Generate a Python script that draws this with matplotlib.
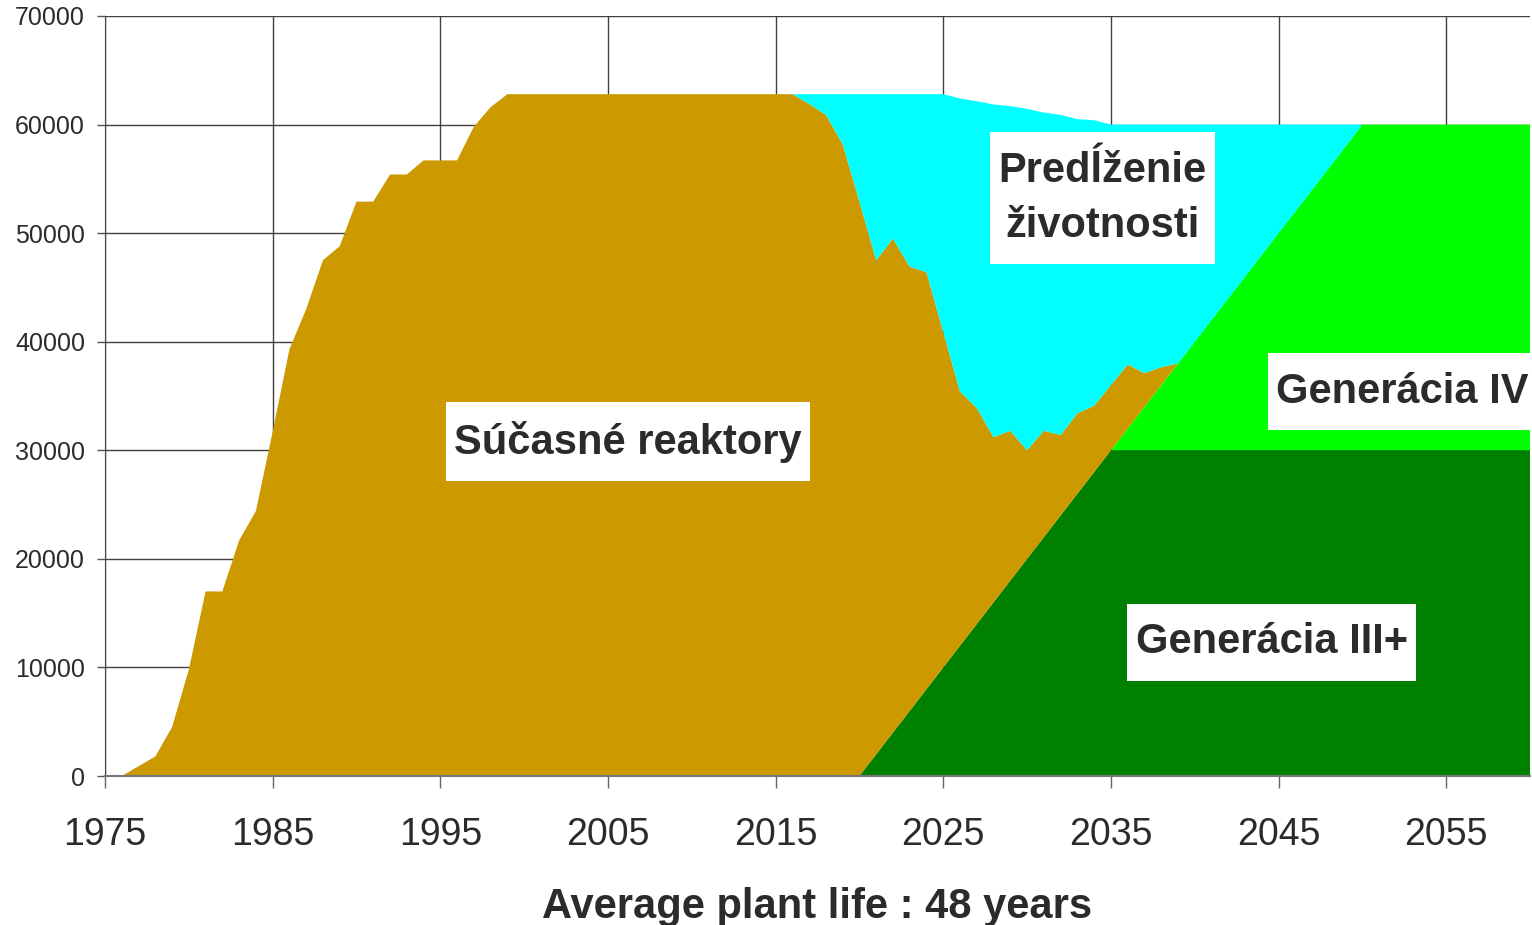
import numpy as np
import matplotlib.pyplot as plt
from matplotlib.path import Path


## categories (one point per year)
years = list(range(1975, 2061))

## series values
current_reactors = [
	0, 0, 900, 1800, 4500, 9800, 17000, 17000, 21700, 24400,                 # 1975-1984
	31700, 39300, 43000, 47500, 48800, 52900, 52900, 55400, 55400, 56700,    # 1985-1994
	56700, 56700, 59800, 61600, 62800, 62800, 62800, 62800, 62800, 62800,    # 1995-2004
	62800, 62800, 62800, 62800, 62800, 62800, 62800, 62800, 62800, 62800,    # 2005-2014
	62800, 62800, 61900, 60900, 58200, 52900, 45500, 45500, 40900, 38400,    # 2015-2024
	30900, 23400, 19900, 15200, 13800, 10000, 9800, 7400, 7400, 6100,        # 2025-2034
	6000, 5900, 3100, 1650, 0, 0, 0, 0, 0, 0,                                # 2035-2044
	0, 0, 0, 0, 0, 0, 0, 0, 0, 0,                                            # 2045-2054
	0, 0, 0, 0, 0, 0,                                                        # 2055-2060
	]
life_extension = [
	0, 0, 0, 0, 0, 0, 0, 0, 0, 0,
	0, 0, 0, 0, 0, 0, 0, 0, 0, 0,
	0, 0, 0, 0, 0, 0, 0, 0, 0, 0,
	0, 0, 0, 0, 0, 0, 0, 0, 0, 0,
	0, 0, 900, 1900, 4600, 9900, 15300, 13300, 15900, 16400,
	21900, 27000, 28250, 30650, 29900, 31450, 29300, 29500, 27100, 26300,
	24000, 22100, 22900, 22350, 22000, 20000, 18000, 16000, 14000, 12000,
	10000, 8000, 6000, 4000, 2000, 0, 0, 0, 0, 0,
	0, 0, 0, 0, 0, 0,
	]
generation_3plus = [
	0, 0, 0, 0, 0, 0, 0, 0, 0, 0,
	0, 0, 0, 0, 0, 0, 0, 0, 0, 0,
	0, 0, 0, 0, 0, 0, 0, 0, 0, 0,
	0, 0, 0, 0, 0, 0, 0, 0, 0, 0,
	0, 0, 0, 0, 0, 0, 2000, 4000, 6000, 8000,
	10000, 12000, 14000, 16000, 18000, 20000, 22000, 24000, 26000, 28000,
	30000, 30000, 30000, 30000, 30000, 30000, 30000, 30000, 30000, 30000,
	30000, 30000, 30000, 30000, 30000, 30000, 30000, 30000, 30000, 30000,
	30000, 30000, 30000, 30000, 30000, 30000,
	]
generation_4 = [
	0, 0, 0, 0, 0, 0, 0, 0, 0, 0,
	0, 0, 0, 0, 0, 0, 0, 0, 0, 0,
	0, 0, 0, 0, 0, 0, 0, 0, 0, 0,
	0, 0, 0, 0, 0, 0, 0, 0, 0, 0,
	0, 0, 0, 0, 0, 0, 0, 0, 0, 0,
	0, 0, 0, 0, 0, 0, 0, 0, 0, 0,
	0, 2000, 4000, 6000, 8000, 10000, 12000, 14000, 16000, 18000,
	20000, 22000, 24000, 26000, 28000, 30000, 30000, 30000, 30000, 30000,
	30000, 30000, 30000, 30000, 30000, 30000,
	]

x_ticks = [1975, 1985, 1995, 2005, 2015, 2025, 2035, 2045, 2055]
y_ticks = [0, 10000, 20000, 30000, 40000, 50000, 60000, 70000]


def label_box(x0, y0, width, height, mutation_size):
	## white box with less padding on the sides than on top/bottom
	padx = 0.2 * mutation_size
	pady = 0.44 * mutation_size
	x0, y0 = x0 - padx, y0 - pady
	x1, y1 = x0 + width + 2 * padx, y0 + height + 2 * pady
	return Path(
		[(x0, y0), (x1, y0), (x1, y1), (x0, y1), (x0, y0)],
		closed=True)

if __name__ == "__main__":

	plt.rcParams["font.family"] = ["Liberation Sans", "DejaVu Sans"]
	text_color = "#2b2b2b"

	fig = plt.figure(
		figsize=(15.32, 9.25),
		dpi=100)
	ax = fig.add_axes([
		105 / 1532,
		149 / 925,
		1425 / 1532,
		760 / 925,
		])

	## stacked areas: gen III+ at the bottom, then gen IV, current, extension
	ax.stackplot(
		years,
		generation_3plus,
		generation_4,
		current_reactors,
		life_extension,
		colors=["#008000", "#00ff00", "#cc9900", "#00ffff"],
		linewidth=0,
		antialiased=True)

	ax.set_xlim([1975, 2060])
	ax.set_ylim([0, 70000])
	ax.set_xticks(x_ticks)
	ax.set_yticks(y_ticks)
	ax.set_axisbelow(True)
	ax.grid(
		color="#404040",
		linewidth=1.0)
	ax.tick_params(
		axis="x",
		direction="out",
		length=8.6,
		width=1,
		color="#666666",
		pad=21,
		labelsize=27,
		labelcolor=text_color)
	ax.tick_params(
		axis="y",
		direction="out",
		length=5.8,
		width=1,
		color="#555555",
		pad=8.6,
		labelsize=18,
		labelcolor=text_color)
	for side in ["top", "right"]:
		ax.spines[side].set_visible(False)
	ax.spines["left"].set_color("#444444")
	ax.spines["bottom"].set_color("#777777")
	ax.spines["bottom"].set_linewidth(1.5)

	## x label
	ax.set_xlabel(
		"Average plant life : 48 years",
		fontsize=30,
		fontweight="bold",
		color=text_color)
	ax.xaxis.set_label_coords(0.5, (776 - 918) / 760)
	ax.xaxis.label.set_verticalalignment("baseline")

	## area labels in white boxes
	box = dict(
		boxstyle=label_box,
		facecolor="white",
		edgecolor="none")
	labels = [
		(2006.2, 30800, "Súčasné reaktory"),
		(2034.5, 53200, "Predĺženie\nživotnosti"),
		(2052.4, 35400, "Generácia IV"),
		(2044.6, 12300, "Generácia III+"),
		]
	for x, y, s in labels:
		ax.text(
			x,
			y,
			s,
			ha="center",
			va="center",
			multialignment="center",
			fontsize=30,
			fontweight="bold",
			color=text_color,
			linespacing=1.5,
			bbox=box,
			clip_on=False)

	fig.savefig("out.png", dpi=100)
	plt.close()
